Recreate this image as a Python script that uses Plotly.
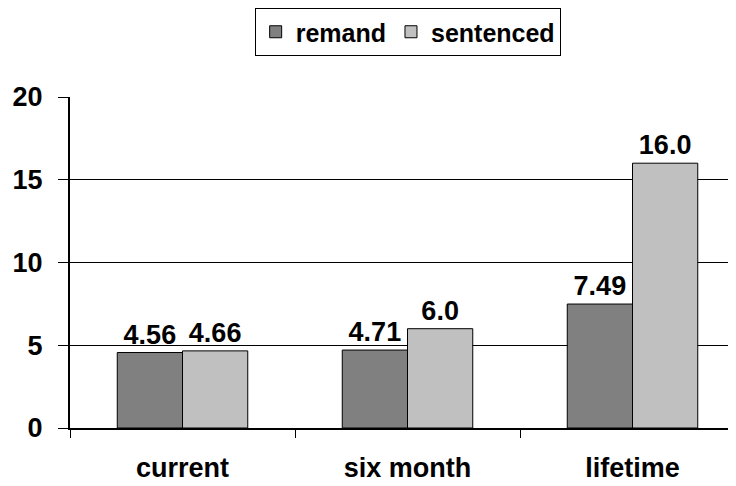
import plotly.graph_objects as go

categories = ["current", "six month", "lifetime"]
remand = [4.56, 4.71, 7.49]
sentenced = [4.66, 6.0, 16.0]
remand_labels = ["4.56", "4.71", "7.49"]
sentenced_labels = ["4.66", "6.0", "16.0"]
y_ticks = [0, 5, 10, 15, 20]

font_bold = dict(family="Liberation Sans, Arial", size=27, color="black", weight="bold")

fig = go.Figure()
fig.add_trace(go.Bar(name="remand", x=categories, y=remand, text=remand_labels,
                     textposition="outside", textfont=font_bold, constraintext="none",
                     cliponaxis=False,
                     marker=dict(color="#808080", line=dict(color="black", width=1))))
fig.add_trace(go.Bar(name="sentenced", x=categories, y=sentenced, text=sentenced_labels,
                     textposition="outside", textfont=font_bold, constraintext="none",
                     cliponaxis=False,
                     marker=dict(color="#c0c0c0", line=dict(color="black", width=1))))

# page body has an 8px margin, so the figure is slightly smaller than the window
fig.update_layout(
    width=728, height=478,
    margin=dict(l=62, r=0, t=89, b=58, autoexpand=False),
    paper_bgcolor="white", plot_bgcolor="white",
    barmode="group", bargap=0.42, bargroupgap=0,
    font=font_bold,
    showlegend=True,
    legend=dict(orientation="h", x=0.507, xanchor="center", y=1.0, yanchor="top",
                yref="container", xref="paper",
                bordercolor="black", borderwidth=1, bgcolor="white",
                font=dict(family="Liberation Sans, Arial", size=25, color="black", weight="bold"),
                itemwidth=30, traceorder="normal"),
    xaxis=dict(range=[-0.5, 2.46], showline=True, linecolor="black", linewidth=2,
               ticks="outside", tickson="boundaries", ticklen=8, tickcolor="black",
               tickfont=font_bold, showgrid=False, automargin=False,
               ticklabelstandoff=15),
    yaxis=dict(range=[0, 20], tickvals=y_ticks, showline=True, linecolor="black", linewidth=2,
               ticks="outside", ticklen=10, tickcolor="black", tickfont=font_bold,
               showgrid=True, gridcolor="black", gridwidth=1, zeroline=False,
               automargin=False, ticklabelstandoff=10),
)

fig.write_html("out.html")
